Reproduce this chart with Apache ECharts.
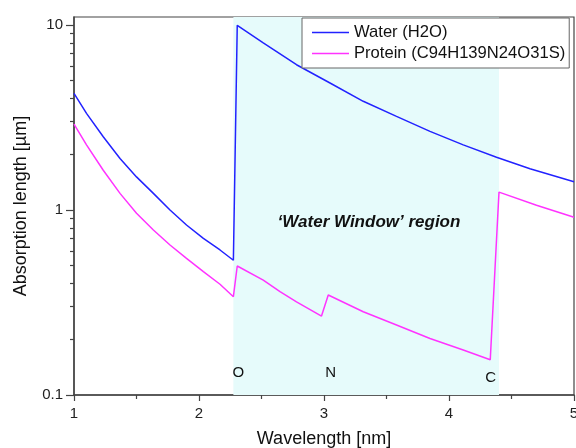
<!DOCTYPE html>
<html>
<head>
<meta charset="utf-8">
<script src="https://cdn.jsdelivr.net/npm/echarts@6/dist/echarts.min.js"></script>
<style>
  html, body { margin: 0; padding: 0; background: #fff; }
  #chart { width: 576px; height: 448px; }
</style>
</head>
<body>
<div id="chart"></div>
<script>
// 数据
const waterX = [1.0, 1.1, 1.234, 1.368, 1.5, 1.635, 1.768, 1.9, 2.035, 2.168, 2.275,
  2.306, 2.514, 2.78, 3.048, 3.314, 3.58, 3.848, 4.114, 4.38, 4.648, 5.0];
const waterY = [4.27, 3.33, 2.49, 1.9, 1.51, 1.23, 1.0, 0.83, 0.703, 0.608, 0.535,
  9.96, 8.0, 6.1, 4.86, 3.87, 3.21, 2.66, 2.25, 1.93, 1.67, 1.42];
const proteinX = [1.0, 1.1, 1.234, 1.368, 1.5, 1.635, 1.768, 1.9, 2.035, 2.168, 2.275,
  2.306, 2.514, 2.648, 2.78, 2.98, 3.034, 3.314, 3.58, 3.848, 4.114, 4.33,
  4.4, 4.7, 5.0];
const proteinY = [2.91, 2.25, 1.64, 1.23, 0.96, 0.78, 0.647, 0.548, 0.464, 0.397, 0.34,
  0.498, 0.418, 0.362, 0.319, 0.267, 0.347, 0.282, 0.239, 0.202, 0.175, 0.155,
  1.25, 1.06, 0.913];
const windowRange = [2.275, 4.4];
const edgeNames = ['O', 'N', 'C'];
const edgeX = [2.315, 3.054, 4.334];
const edgeY = [0.132, 0.132, 0.124];
const yMajor = [0.1, 1, 10];
const yMinor = [0.2, 0.3, 0.4, 0.5, 0.6, 0.7, 0.8, 0.9, 2, 3, 4, 5, 6, 7, 8, 9];
const seriesNames = ['Water (H2O)', 'Protein (C94H139N24O31S)'];

const zip = (xs, ys) => xs.map((x, i) => [x, ys[i]]);
const font = 'Liberation Sans, Arial, sans-serif';
const axisColor = '#444';

const chart = echarts.init(document.getElementById('chart'));

const option = {
  animation: false,
  textStyle: { fontFamily: font },
  grid: {
    left: 74, right: 2, top: 17, bottom: 53,
    outerBoundsMode: 'none',
    containLabel: false,
    show: true, borderColor: axisColor, borderWidth: 1.2
  },
  legend: {
    data: seriesNames,
    orient: 'vertical',
    left: 302, top: 18,
    padding: [6, 4, 6, 10],
    itemGap: 4,
    itemWidth: 37,
    itemHeight: 1.5,
    icon: 'rect',
    borderColor: '#666',
    borderWidth: 1,
    backgroundColor: '#fff',
    textStyle: { fontSize: 16.6, lineHeight: 14, color: '#111', fontFamily: font }
  },
  xAxis: {
    type: 'value',
    min: 1, max: 5, interval: 1,
    name: 'Wavelength [nm]',
    nameLocation: 'middle',
    nameGap: 35,
    nameTextStyle: { fontSize: 18, color: '#111', fontFamily: font },
    axisLine: { lineStyle: { color: axisColor, width: 1.5 } },
    axisTick: { inside: false, length: 6, lineStyle: { color: axisColor, width: 1.2 } },
    minorTick: { show: true, splitNumber: 2, length: 4, lineStyle: { color: axisColor, width: 1.2 } },
    axisLabel: { fontSize: 15, color: '#222', margin: 11 },
    splitLine: { show: false }
  },
  yAxis: [
    {
      type: 'log',
      logBase: 10,
      min: 0.1, max: 11.05,
      name: 'Absorption length [\u00b5m]',
      nameLocation: 'middle',
      nameGap: 44,
      nameTextStyle: { fontSize: 18, color: '#111', fontFamily: font },
      axisLine: { show: true, lineStyle: { color: axisColor, width: 1.5 } },
      axisTick: { length: 8, customValues: yMajor, lineStyle: { color: axisColor, width: 1.2 } },
      axisLabel: { fontSize: 15, color: '#222', margin: 11, customValues: yMajor, formatter: v => String(v) },
      splitLine: { show: false }
    },
    {
      type: 'log',
      logBase: 10,
      min: 0.1, max: 11.05,
      position: 'left',
      axisLine: { show: false },
      axisTick: { length: 4, customValues: yMinor, lineStyle: { color: axisColor, width: 1.2 } },
      axisLabel: { show: false },
      splitLine: { show: false }
    }
  ],
  series: [
    {
      name: 'window',
      type: 'line',
      data: [],
      z: 1,
      silent: true,
      markArea: {
        silent: true,
        itemStyle: { color: '#e6fbfb' },
        data: [[{ xAxis: windowRange[0] }, { xAxis: windowRange[1] }]]
      },
      markPoint: {
        silent: true,
        symbol: 'rect',
        symbolSize: 0,
        label: {
          show: true,
          position: 'inside',
          fontSize: 15,
          color: '#111',
          fontFamily: font,
          formatter: p => p.name
        },
        data: edgeNames.map((n, i) => ({ name: n, coord: [edgeX[i], edgeY[i]] })).concat([
          {
            name: '\u2018Water Window\u2019 region',
            coord: [3.36, 0.853],
            label: { fontSize: 17, fontWeight: 'bold', fontStyle: 'italic', color: '#111' }
          }
        ])
      }
    },
    {
      name: seriesNames[0],
      type: 'line',
      data: zip(waterX, waterY),
      symbol: 'none',
      z: 3,
      lineStyle: { color: '#2222ff', width: 1.5 },
      itemStyle: { color: '#2222ff' }
    },
    {
      name: seriesNames[1],
      type: 'line',
      data: zip(proteinX, proteinY),
      symbol: 'none',
      z: 3,
      lineStyle: { color: '#ff33ff', width: 1.5 },
      itemStyle: { color: '#ff33ff' }
    }
  ]
};

chart.setOption(option);
</script>
</body>
</html>
